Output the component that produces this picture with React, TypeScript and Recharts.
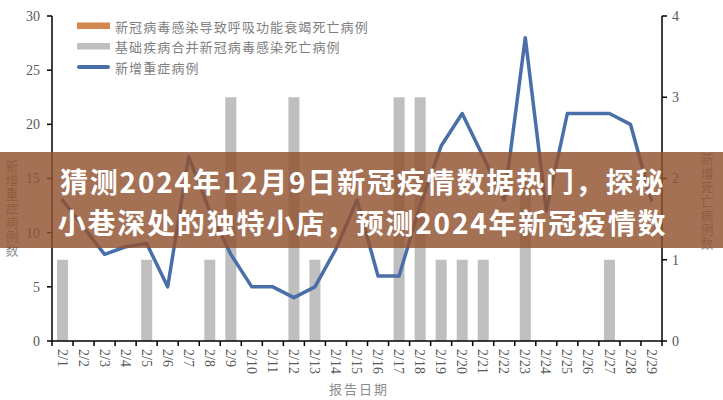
import React from 'react';
import { ComposedChart, Bar, Line, XAxis, YAxis, Legend } from 'recharts';

const categories = ['2/1','2/2','2/3','2/4','2/5','2/6','2/7','2/8','2/9','2/10','2/11','2/12','2/13','2/14','2/15','2/16','2/17','2/18','2/19','2/20','2/21','2/22','2/23','2/24','2/25','2/26','2/27','2/28','2/29'];
const severeCases = [13, 10.5, 8, 8.7, 9, 5, 17, 12, 8, 5, 5, 4, 5, 8.5, 13, 6, 6, 12.5, 18, 21, 17, 13, 28, 12, 21, 21, 21, 20, 13];
const respiratoryDeaths = [0,0,0,0,0,0,0,0,0,0,0,0,0,0,0,0,0,0,0,0,0,0,0,0,0,0,0,0,0];
const comorbidDeaths = [1,0,0,0,1,0,0,1,3,0,0,3,1,0,0,0,3,3,1,1,1,0,2,0,0,0,1,0,0];
const leftTicks = [0, 5, 10, 15, 20, 25, 30];
const rightTicks = [0, 1, 2, 3, 4];
const seriesNames = ['新冠病毒感染导致呼吸功能衰竭死亡病例', '基础疾病合并新冠病毒感染死亡病例', '新增重症病例'];
const leftAxisTitle = '新增重症病例数';
const rightAxisTitle = '新增死亡病例数';
const xAxisTitle = '报告日期';
const bannerLines = ['猜测2024年12月9日新冠疫情数据热门，探秘', '小巷深处的独特小店，预测2024年新冠疫情数'];

const data = categories.map((d, i) => ({
  date: d,
  resp: respiratoryDeaths[i],
  comorbid: comorbidDeaths[i],
  severe: severeCases[i],
}));

const W = 723;
const H = 400;
const LEFT_W = 52;
const RIGHT_W = 61;
const PLOT_W = W - LEFT_W - RIGHT_W;
const ORANGE = '#d4874f';
const GREY = '#bfbfbf';
const BLUE = '#4a6ea8';
const TICK_FONT = 'Liberation Serif, Times New Roman, serif';
const CJK_FONT = '"Noto Sans CJK SC", "Noto Sans", sans-serif';

const XTick = (props: any) => {
  const { x, y, payload, index } = props;
  const half = PLOT_W / categories.length / 2;
  const isLast = index === categories.length - 1 || payload.value === categories[categories.length - 1];
  return (
    <g>
      <line x1={x - half} y1={y} x2={x - half} y2={y + 5} stroke="#000" strokeWidth={1.5} />
      {isLast && <line x1={x + half} y1={y} x2={x + half} y2={y + 5} stroke="#000" strokeWidth={1.5} />}
      <text
        transform={`translate(${x},${y + 8}) rotate(90)`}
        textAnchor="start"
        dy="0.35em"
        fontFamily={TICK_FONT}
        fontSize={14}
        fill="#595959"
      >
        {payload.value}
      </text>
    </g>
  );
};

const renderLegend = () => (
  <svg width={400} height={80} style={{ display: 'block' }}>
    <rect x={77} y={22.5} width={33} height={6.5} fill={ORANGE} />
    <text x={115} y={26} dominantBaseline="central" fontFamily={CJK_FONT} fontSize={13} letterSpacing={1.1} fill="#7f7f7f">{seriesNames[0]}</text>
    <rect x={77} y={43} width={33} height={6.5} fill={GREY} />
    <text x={115} y={46.5} dominantBaseline="central" fontFamily={CJK_FONT} fontSize={13} letterSpacing={1.1} fill="#7f7f7f">{seriesNames[1]}</text>
    <line x1={79} y1={67} x2={108} y2={67} stroke={BLUE} strokeWidth={4} strokeLinecap="round" />
    <text x={115} y={67} dominantBaseline="central" fontFamily={CJK_FONT} fontSize={13} letterSpacing={1.1} fill="#7f7f7f">{seriesNames[2]}</text>
  </svg>
);

export default function App() {
  return (
    <div style={{ position: 'absolute', left: 0, top: 0, width: W, height: H, background: '#fff' }}>
      <ComposedChart
        width={W}
        height={H}
        data={data}
        margin={{ top: 16, right: 0, bottom: 0, left: 0 }}
        barCategoryGap="24%"
      >
        <XAxis
          dataKey="date"
          interval={0}
          height={59}
          tickSize={0}
          tickMargin={0}
          tickLine={false}
          axisLine={{ stroke: '#000', strokeWidth: 1.5 }}
          tick={<XTick />}
        />
        <YAxis
          yAxisId="left"
          orientation="left"
          width={LEFT_W}
          domain={[0, 30]}
          ticks={leftTicks}
          interval={0}
          tickSize={5}
          tickMargin={7}
          axisLine={{ stroke: '#000', strokeWidth: 1.5 }}
          tickLine={{ stroke: '#000', strokeWidth: 1.5 }}
          tick={{ fontFamily: TICK_FONT, fontSize: 14, fill: '#595959' }}
        />
        <YAxis
          yAxisId="right"
          orientation="right"
          width={RIGHT_W}
          domain={[0, 4]}
          ticks={rightTicks}
          interval={0}
          tickSize={5}
          tickMargin={5}
          axisLine={{ stroke: '#000', strokeWidth: 1.5 }}
          tickLine={{ stroke: '#000', strokeWidth: 1.5 }}
          tick={{ fontFamily: TICK_FONT, fontSize: 14, fill: '#595959' }}
        />
        <Legend
          layout="vertical"
          align="center"
          verticalAlign="middle"
          content={renderLegend}
          wrapperStyle={{ left: 0, top: 0, width: 400, height: 80 }}
        />
        <Bar yAxisId="right" dataKey="resp" name={seriesNames[0]} stackId="deaths" fill={ORANGE} isAnimationActive={false} />
        <Bar yAxisId="right" dataKey="comorbid" name={seriesNames[1]} stackId="deaths" fill={GREY} isAnimationActive={false} />
        <Line
          yAxisId="left"
          type="linear"
          dataKey="severe"
          name={seriesNames[2]}
          stroke={BLUE}
          strokeWidth={3.5}
          strokeLinejoin="round"
          strokeLinecap="round"
          dot={false}
          activeDot={false}
          isAnimationActive={false}
        />
      </ComposedChart>
      <svg width={W} height={H} style={{ position: 'absolute', left: 0, top: 0, pointerEvents: 'none' }}>
        <text x={12} y={160} style={{ writingMode: 'vertical-rl' }} textAnchor="start" fontFamily={CJK_FONT} fontSize={13} letterSpacing={1} fill="#8c8c8c">{leftAxisTitle}</text>
        <text x={707} y={153} style={{ writingMode: 'vertical-rl' }} textAnchor="start" fontFamily={CJK_FONT} fontSize={13} letterSpacing={1} fill="#8c8c8c">{rightAxisTitle}</text>
        <text x={359} y={388} textAnchor="middle" dominantBaseline="central" fontFamily={CJK_FONT} fontSize={13} letterSpacing={2} fill="#8c8c8c">{xAxisTitle}</text>
        <rect x={0} y={152} width={W} height={96} fill="rgba(145,82,48,0.82)" />
        {bannerLines.map((t, i) => (
          <text key={'b' + i} x={W / 2 + 1} y={193 + i * 41} textAnchor="middle" fontFamily={CJK_FONT} fontWeight={700} fontSize={28} letterSpacing={1.8} fill="#ffffff">{t}</text>
        ))}
      </svg>
    </div>
  );
}
